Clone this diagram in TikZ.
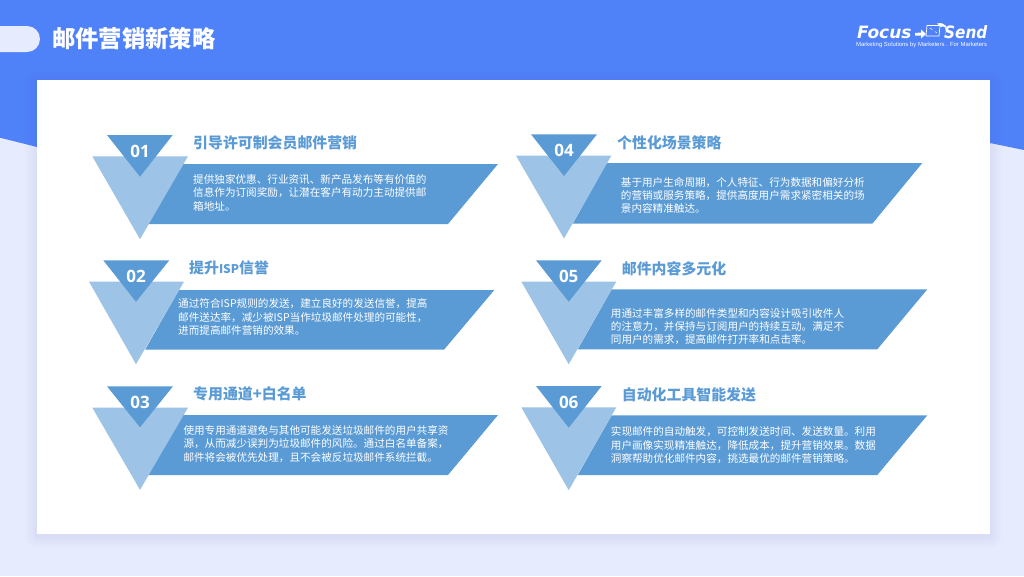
\documentclass[tikz,border=0pt]{standalone}
\usepackage{fontspec}
\setmainfont{Noto Sans CJK SC}
\newfontfamily\latinf{Open Sans}
\newfontfamily\logof{DejaVu Sans}
\newfontfamily\taglinef{Liberation Sans}
\usetikzlibrary{calc}
\definecolor{topblue}{HTML}{4F81F9}
\definecolor{paleblue}{HTML}{E6EBFD}
\definecolor{darkb}{HTML}{5B9BD5}
\definecolor{lightb}{HTML}{9DC3E6}
\tikzset{
 x=1pt,y=-1pt,
 bodytext/.style={anchor=north west,inner sep=0pt,align=left,text=white,font=\fontsize{10.6}{13.3}\selectfont},
 headtext/.style={anchor=west,inner sep=0pt,text=darkb,font=\fontsize{14.9}{16}\selectfont\bfseries},
 numtext/.style={anchor=center,inner sep=0pt,text=white,font=\latinf\fontsize{17}{18}\selectfont\bfseries},
 logotext/.style={anchor=west,inner sep=0pt,text=white,font=\logof\fontsize{17}{18}\selectfont\bfseries\itshape},
}
\newcommand{\tris}[9]{%
 \fill[lightb] (#8,#5+21.3) -- (#9,#5+21.3) -- (#6,#7+62.5) -- cycle;
 \fill[darkb] (#3,#5) -- (#4,#5) -- (#6,#7) -- cycle;
 \node[numtext] (num#1) at (#6,#5+16.5) {#2};
}
\newcommand{\band}[5]{\fill[darkb] (#3+34,#1) -- (#5,#1) -- (#4,#2) -- (#3,#2) -- cycle;}
\begin{document}
\begin{tikzpicture}
\useasboundingbox (0,0) rectangle (1024,576);
\fill[paleblue] (0,0) rectangle (1024,576);
\fill[topblue] (0,0) -- (1024,0) -- (1024,150) -- (990,143) -- (37,147) -- (0,137.7) -- cycle;
\fill[paleblue] (0,26) -- (27,26) .. controls (34.2,26) and (40,31.8) .. (40,39) .. controls (40,46.2) and (34.2,52) .. (27,52) -- (0,52) -- cycle;
\foreach \i/\o in {12/.008,10/.01,8/.012,6/.014,4/.016,2/.02}{
 \fill[rounded corners=\i pt,black!40!blue!60!white,opacity=\o] (37-\i,80-\i+2) rectangle (990+\i,534+\i+2);
}
\fill[white] (37,80) rectangle (990,534);
\node[anchor=west,inner sep=0pt,text=white,font=\fontsize{23.3}{25}\selectfont\bfseries] (title) at (52,38.5) {邮件营销新策略};
% logo
\node[logotext] (logoa) at (857,32) {Focus};
\node[logotext,xscale=.9] (logob) at (944,32) {Send};
\draw[white,line width=.7pt] (927,25.5) -- (940,25.5) -- (939,36) -- (926,36) -- cycle;
\draw[white,line width=.5pt,dashed] (930,28) -- (937,33);
\fill[white] (915,33) -- (921,32.5) -- (921,29.5) -- (926,34) -- (921,38.5) -- (921,35.5) -- (915,35.5) -- cycle;
\fill[white] (937,23.5) .. controls (945,21.5) and (950,28) .. (945,34) .. controls (948,28) and (944,25) .. (941,27) -- (937,23.5) -- cycle;
\node[anchor=west,inner sep=0pt,text=white,font=\taglinef\fontsize{5.95}{6.5}\selectfont] (logoc) at (856,45.3) {Marketing Solutions by Marketers . For Marketers};
% bands
\band{164}{224}{148}{448}{498}
\band{290}{349.7}{145}{444}{494.3}
\band{415}{475}{148}{448}{498}
\band{163}{223.7}{572.7}{872.3}{922.3}
\band{289.3}{349.3}{577.7}{877.3}{927.3}
\band{415.3}{475}{577.7}{877.3}{927.3}
% triangles
\tris{a}{01}{107}{172.7}{135}{140}{176.7}{92.3}{188}
\tris{b}{02}{103.3}{169.3}{260.3}{136}{301.7}{89}{184}
\tris{c}{03}{107}{173}{386.3}{140}{427.3}{92.3}{188}
\tris{d}{04}{531}{597}{134.3}{564}{176}{516}{611.3}
\tris{e}{05}{536}{601.7}{260.3}{568.7}{301.7}{521.3}{616.3}
\tris{f}{06}{536}{601.7}{386}{568.7}{427.7}{521.3}{616.3}
% headings
\node[headtext] (ha) at (193,143) {引导许可制会员邮件营销};
\node[headtext] (hb) at (189,268) {提升{\fontsize{12}{14}\selectfont ISP}信誉};
\node[headtext] (hc) at (193,393.5) {专用通道+白名单};
\node[headtext] (hd) at (617,142.5) {个性化场景策略};
\node[headtext] (he) at (621.7,268.5) {邮件内容多元化};
\node[headtext] (hf) at (621.7,394.5) {自动化工具智能发送};
% body
\node[bodytext] (ba) at (193,174.5) {提供独家优惠、行业资讯、新产品发布等有价值的\\信息作为订阅奖励，让潜在客户有动力主动提供邮\\箱地址。};
\node[bodytext] (bb) at (178,298.5) {通过符合ISP规则的发送，建立良好的发送信誉，提高\\邮件送达率，减少被ISP当作垃圾邮件处理的可能性，\\进而提高邮件营销的效果。};
\node[bodytext] (bc) at (183.3,425.3) {使用专用通道避免与其他可能发送垃圾邮件的用户共享资\\源，从而减少误判为垃圾邮件的风险。通过白名单备案，\\邮件将会被优先处理，且不会被反垃圾邮件系统拦截。};
\node[bodytext] (bd) at (620.7,176.8) {基于用户生命周期，个人特征、行为数据和偏好分析\\的营销或服务策略，提供高度用户需求紧密相关的场\\景内容精准触达。};
\node[bodytext] (be) at (610.7,307.8) {用通过丰富多样的邮件类型和内容设计吸引收件人\\的注意力，并保持与订阅用户的持续互动。满足不\\同用户的需求，提高邮件打开率和点击率。};
\node[bodytext] (bf) at (610.7,426.8) {实现邮件的自动触发，可控制发送时间、发送数量。利用\\用户画像实现精准触达，降低成本，提升营销效果。数据\\洞察帮助优化邮件内容，挑选最优的邮件营销策略。};
\end{tikzpicture}
\end{document}
